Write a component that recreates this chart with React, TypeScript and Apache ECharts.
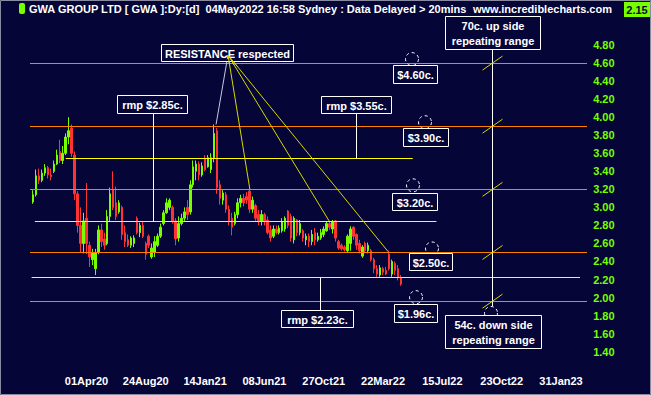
import React, { useEffect, useRef } from 'react';
import * as echarts from 'echarts';

// ---- Data (weekly OHLC) ----
const opens = [
  3.06, 3.14, 3.35, 3.30, 3.38, 3.44, 3.36, 3.40, 3.48, 3.62, 3.52, 3.60, 3.78, 3.88, 3.58, 3.15, 2.80, 2.60, 2.88, 2.58,
  2.42, 2.32, 2.50, 2.75, 2.65, 2.60, 2.90, 3.20, 3.05, 2.95, 3.00, 2.72, 2.64, 2.58, 2.60, 2.88, 2.72, 2.80, 2.60, 2.68,
  2.45, 2.50, 2.58, 2.68, 2.82, 2.94, 3.00, 3.00, 2.85, 2.66, 2.82, 2.88, 3.00, 2.95, 3.25, 3.40, 3.48, 3.36, 3.54, 3.45,
  3.42, 3.55, 3.85, 3.25, 3.08, 3.14, 2.98, 2.88, 2.82, 2.92, 3.05, 3.10, 3.12, 3.18, 2.98, 3.02, 2.92, 2.85, 2.92, 2.86,
  2.75, 2.68, 2.76, 2.72, 2.74, 2.76, 2.96, 2.90, 2.64, 2.86, 2.72, 2.74, 2.64, 2.68, 2.62, 2.72, 2.64, 2.66, 2.70, 2.74,
  2.82, 2.76, 2.85, 2.62, 2.58, 2.56, 2.52, 2.60, 2.78, 2.70, 2.60, 2.46, 2.60, 2.52, 2.52, 2.42, 2.32, 2.25, 2.32, 2.30,
  2.48, 2.26, 2.38, 2.32, 2.22,
];
const closes = [
  3.14, 3.35, 3.30, 3.38, 3.44, 3.36, 3.34, 3.48, 3.58, 3.52, 3.60, 3.78, 3.85, 3.60, 3.15, 2.80, 2.60, 2.85, 2.60, 2.45,
  2.50, 2.50, 2.75, 2.62, 2.58, 2.90, 3.15, 3.00, 2.90, 3.05, 2.70, 2.62, 2.58, 2.66, 2.66, 2.72, 2.80, 2.68, 2.48, 2.58,
  2.55, 2.62, 2.68, 2.78, 2.94, 3.05, 3.08, 2.85, 2.65, 2.82, 2.88, 2.95, 2.92, 3.25, 3.45, 3.48, 3.36, 3.46, 3.42, 3.55,
  3.55, 3.82, 3.22, 3.10, 3.16, 2.98, 2.85, 2.78, 2.92, 3.05, 3.10, 3.05, 3.08, 2.98, 3.08, 2.88, 2.85, 2.92, 2.84, 2.72,
  2.66, 2.76, 2.72, 2.77, 2.84, 2.88, 2.80, 2.66, 2.88, 2.72, 2.82, 2.66, 2.68, 2.62, 2.70, 2.64, 2.68, 2.72, 2.76, 2.82,
  2.78, 2.84, 2.66, 2.55, 2.54, 2.53, 2.68, 2.76, 2.68, 2.58, 2.52, 2.56, 2.52, 2.58, 2.42, 2.32, 2.26, 2.33, 2.28, 2.26,
  2.32, 2.40, 2.30, 2.22, 2.15,
];
const lows = [
  3.04, 3.12, 3.26, 3.28, 3.35, 3.32, 3.30, 3.38, 3.47, 3.49, 3.48, 3.58, 3.70, 3.56, 3.08, 2.72, 2.50, 2.49, 2.48, 2.34,
  2.36, 2.25, 2.48, 2.56, 2.53, 2.58, 2.85, 2.97, 2.86, 2.93, 2.64, 2.56, 2.56, 2.55, 2.56, 2.70, 2.67, 2.66, 2.42, 2.55,
  2.43, 2.45, 2.56, 2.66, 2.80, 2.93, 2.97, 2.82, 2.58, 2.62, 2.80, 2.85, 2.86, 2.92, 3.22, 3.30, 3.30, 3.34, 3.40, 3.44,
  3.38, 3.50, 3.15, 3.03, 3.03, 2.94, 2.80, 2.69, 2.80, 2.88, 3.00, 3.01, 3.04, 2.94, 2.94, 2.85, 2.80, 2.80, 2.80, 2.70,
  2.62, 2.66, 2.70, 2.70, 2.72, 2.73, 2.77, 2.62, 2.60, 2.68, 2.69, 2.62, 2.58, 2.56, 2.58, 2.58, 2.62, 2.64, 2.67, 2.73,
  2.75, 2.71, 2.62, 2.53, 2.52, 2.51, 2.50, 2.52, 2.64, 2.53, 2.49, 2.44, 2.49, 2.49, 2.40, 2.27, 2.23, 2.23, 2.25, 2.25,
  2.30, 2.23, 2.25, 2.19, 2.13,
];
const highs = [
  3.19, 3.42, 3.43, 3.42, 3.48, 3.46, 3.43, 3.52, 3.64, 3.75, 3.68, 3.82, 4.00, 3.92, 3.62, 3.18, 3.00, 2.94, 3.27, 2.62,
  2.54, 2.54, 2.80, 2.82, 2.72, 2.97, 3.22, 3.40, 3.23, 3.08, 3.02, 2.80, 2.70, 2.68, 2.69, 2.90, 2.83, 2.84, 2.62, 2.70,
  2.60, 2.68, 2.71, 2.82, 2.97, 3.10, 3.10, 3.02, 2.88, 2.90, 2.93, 3.00, 3.08, 3.30, 3.52, 3.52, 3.51, 3.50, 3.58, 3.58,
  3.60, 3.92, 3.88, 3.30, 3.19, 3.17, 3.02, 2.94, 2.95, 3.10, 3.14, 3.15, 3.17, 3.20, 3.12, 3.04, 2.97, 2.97, 2.94, 2.90,
  2.80, 2.80, 2.80, 2.80, 2.88, 2.90, 2.97, 2.93, 2.90, 2.87, 2.86, 2.76, 2.71, 2.71, 2.75, 2.77, 2.72, 2.76, 2.79, 2.84,
  2.85, 2.86, 2.86, 2.64, 2.60, 2.58, 2.70, 2.79, 2.79, 2.71, 2.64, 2.58, 2.62, 2.61, 2.54, 2.44, 2.36, 2.36, 2.34, 2.34,
  2.52, 2.42, 2.40, 2.36, 2.25,
];

// x axis: one slot per week; tick labels every 20 weeks
const slotCount = 187;
const tickLabels = ['01Apr20', '24Aug20', '14Jan21', '08Jun21', '27Oct21', '22Mar22', '15Jul22', '23Oct22', '31Jan23'];
const tickIndex = [18, 38, 58, 78, 98, 118, 138, 158, 178];

// Horizontal levels
const orangeLevels = [4.6, 3.9, 3.2, 2.5, 1.96];
const rmpLevels = [
  { v: 3.55, from: 11, to: 128 },
  { v: 2.85, from: 0.6, to: 136 },
  { v: 2.23, from: -0.5, to: 184.4 },
];
// Resistance touch points [slot, price]
const resistanceTargets = [
  { at: [61.7, 3.92], color: '#c8c8dc' },
  { at: [73.1, 3.2], color: '#d8d800' },
  { at: [99.8, 2.85], color: '#d8d800' },
  { at: [119.7, 2.51], color: '#d8d800' },
];

const BG = '#050538';
const GREEN = '#77ff00';
const RED = '#ff3333';
const ORANGE = '#ff8000';
const YELLOW = '#ffff00';
const FONT = '"Liberation Sans", Arial, sans-serif';

export default function App() {
  const ref = useRef<HTMLDivElement>(null);
  useEffect(() => {
    document.body.style.margin = '0';
    const chart = echarts.init(ref.current!, null, { renderer: 'svg' });
    const categories = Array.from({ length: slotCount }, (_, i) => {
      const k = tickIndex.indexOf(i);
      return k >= 0 ? tickLabels[k] : '';
    });
    const data = opens.map((o, i) => [o, closes[i], lows[i], highs[i]]);
    chart.setOption({
      animation: false,
      backgroundColor: BG,
      grid: { left: 31.6, right: 64.8, top: 18, bottom: 25.3, containLabel: false, outerBoundsMode: 'none' },
      xAxis: {
        type: 'category',
        data: categories,
        boundaryGap: true,
        axisLine: { show: false },
        axisTick: { show: false },
        splitLine: { show: false },
        axisLabel: {
          interval: (idx: number) => tickIndex.includes(idx),
          color: '#ffffff',
          fontWeight: 'bold',
          fontSize: 11,
          fontFamily: FONT,
          margin: 6,
        },
      },
      yAxis: {
        type: 'value',
        position: 'right',
        min: 1.2,
        max: 5.1,
        interval: 0.2,
        axisLine: { show: false },
        axisTick: { show: false },
        splitLine: { show: false },
        axisLabel: {
          formatter: (v: number) => (v > 1.39 && v < 4.81 ? v.toFixed(2) : ''),
          color: GREEN,
          fontWeight: 'bold',
          fontSize: 11,
          fontFamily: FONT,
          margin: 7,
        },
      },
      series: [
        {
          type: 'candlestick',
          data,
          barWidth: 2,
          itemStyle: { color: GREEN, color0: RED, borderColor: GREEN, borderColor0: RED, borderWidth: 1 },
        },
      ],
    });

    const a = chart.convertToPixel({ xAxisIndex: 0, yAxisIndex: 0 }, [0, 3]) as number[];
    const b = chart.convertToPixel({ xAxisIndex: 0, yAxisIndex: 0 }, [1, 2]) as number[];
    const xPx = (i: number) => a[0] + (b[0] - a[0]) * i;
    const yPx = (v: number) => a[1] + (b[1] - a[1]) * (3 - v);
    const cy = (v: number) => Math.round(yPx(v)) + 0.5;

    const g: any[] = [];
    const line = (x1: number, y1: number, x2: number, y2: number, stroke: string, extra: any = {}) =>
      g.push({ type: 'line', shape: { x1, y1, x2, y2 }, style: { stroke, lineWidth: 1, ...extra }, z: 10 });

    // orange levels
    orangeLevels.forEach((v) => line(30, cy(v), 587, cy(v), ORANGE));
    // yellow rmp levels
    rmpLevels.forEach((r) => line(xPx(r.from), cy(r.v), xPx(r.to), cy(r.v), YELLOW));
    // rmp connectors
    const vx1 = Math.round(xPx(40.4)) + 0.5;
    line(vx1, 113, vx1, cy(2.85), '#ffffff');
    const vx2 = Math.round(xPx(108.9)) + 0.5;
    line(vx2, 113, vx2, cy(3.55), '#ffffff');
    const vx3 = Math.round(xPx(96.6)) + 0.5;
    line(vx3, cy(2.23), vx3, 310, '#ffffff');
    // repeating range vertical
    const rx = Math.round(xPx(154.7)) + 0.5;
    line(rx, 49, rx, 306, '#ffffff');
    orangeLevels.forEach((v) => line(rx - 10, yPx(v) + 7, rx + 10, yPx(v) - 7, '#d8d800'));

    // resistance lines
    resistanceTargets.forEach((t) => line(228, 55, xPx(t.at[0]), yPx(t.at[1]), t.color));

    // dashed circles
    const circles = [
      { x: 412, y: yPx(4.6) - 4 },
      { x: 425, y: yPx(3.9) - 4 },
      { x: 413, y: yPx(3.2) - 4 },
      { x: 432, y: yPx(2.5) - 4 },
      { x: 416, y: yPx(1.96) - 4 },
      { x: 491, y: 313 },
    ];
    circles.forEach((c) =>
      g.push({
        type: 'circle',
        shape: { cx: c.x, cy: c.y, r: 6.5 },
        style: { fill: 'none', stroke: '#ffffff', lineWidth: 1, lineDash: [3, 3] },
        z: 11,
      })
    );

    // label boxes
    const boxes = [
      { t: 'RESISTANCE respected', x: 161, y: 44, w: 132, h: 17 },
      { t: 'rmp $2.85c.', x: 117, y: 95, w: 70, h: 18 },
      { t: 'rmp $3.55c.', x: 321, y: 96, w: 70, h: 17 },
      { t: '$4.60c.', x: 393, y: 65, w: 44, h: 18 },
      { t: '$3.90c.', x: 403, y: 128, w: 45, h: 18 },
      { t: '$3.20c.', x: 392, y: 193, w: 45, h: 17 },
      { t: '$2.50c.', x: 409, y: 253, w: 43, h: 17 },
      { t: '$1.96c.', x: 394, y: 304, w: 43, h: 18 },
      { t: 'rmp $2.23c.', x: 281, y: 310, w: 72, h: 17 },
      { t: '70c. up side\nrepeating range', x: 445, y: 16, w: 95, h: 33 },
      { t: '54c. down side\nrepeating range', x: 445, y: 315, w: 96, h: 33 },
    ];
    boxes.forEach((bx) => {
      g.push({
        type: 'rect',
        shape: { x: bx.x + 0.5, y: bx.y + 0.5, width: bx.w, height: bx.h },
        style: { fill: BG, stroke: '#ffffff', lineWidth: 1 },
        z: 12,
      });
      g.push({
        type: 'text',
        x: bx.x + bx.w / 2 + 0.5,
        y: bx.y + bx.h / 2 + 1,
        style: {
          text: bx.t,
          fill: '#ffffff',
          font: `bold 11px ${FONT}`,
          textAlign: 'center',
          textVerticalAlign: 'middle',
          lineHeight: 15,
        },
        z: 13,
      });
    });
    // resistance lines drawn over the label start
    resistanceTargets.forEach((t) =>
      g.push({
        type: 'line',
        shape: { x1: 228, y1: 55, x2: 228 + (xPx(t.at[0]) - 228) * 0.06, y2: 55 + (yPx(t.at[1]) - 55) * 0.06 },
        style: { stroke: t.color, lineWidth: 1 },
        z: 14,
      })
    );

    // header
    g.push({ type: 'rect', shape: { x: 19, y: 3, width: 6, height: 11, r: 2 }, style: { fill: GREEN }, z: 20 });
    g.push({
      type: 'text',
      x: 29,
      y: 9,
      style: {
        text: 'GWA GROUP LTD [ GWA ]:Dy:[d]  04May2022 16:58 Sydney : Data Delayed > 20mins',
        fill: '#ffffff',
        font: `bold 11px ${FONT}`,
        textVerticalAlign: 'middle',
      },
      z: 20,
    });
    g.push({
      type: 'text',
      x: 473,
      y: 9,
      style: { text: 'www.incrediblecharts.com', fill: '#ffffff', font: `bold 11px ${FONT}`, textVerticalAlign: 'middle' },
      z: 20,
    });
    g.push({ type: 'rect', shape: { x: 624, y: 2, width: 26, height: 15 }, style: { fill: GREEN }, z: 20 });
    g.push({
      type: 'text',
      x: 637,
      y: 10,
      style: { text: '2.15', fill: '#0a0a30', font: `bold 11px ${FONT}`, textAlign: 'center', textVerticalAlign: 'middle' },
      z: 21,
    });
    // outer frame
    g.push({
      type: 'rect',
      shape: { x: 0.5, y: 0.5, width: 650, height: 394 },
      style: { fill: 'none', stroke: '#8a8aa0', lineWidth: 1 },
      z: 30,
    });

    chart.setOption({ graphic: g });
    return () => chart.dispose();
  }, []);
  return <div ref={ref} style={{ width: 651, height: 395 }} />;
}
